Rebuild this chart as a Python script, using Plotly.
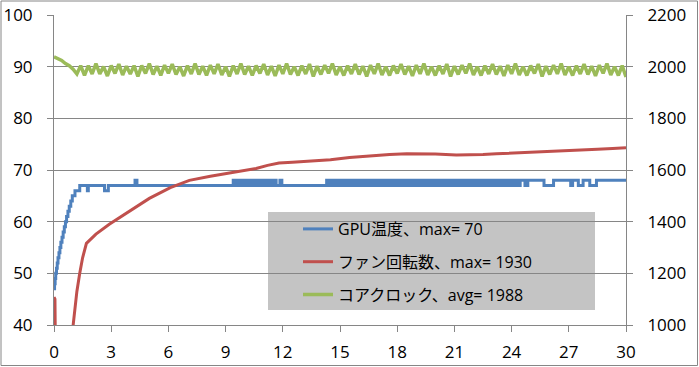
import plotly.graph_objects as go

# ---------------- data ----------------
x_ticks = [0, 3, 6, 9, 12, 15, 18, 21, 24, 27, 30]

legend_names = ["GPU温度、max= 70", "ファン回転数、max= 1930", "コアクロック、avg= 1988"]

# GPU temperature (left axis, deg C) – step readings
gpu_t = [0.0, 0.03, 0.06, 0.09, 0.13, 0.17, 0.21, 0.26, 0.31, 0.36, 0.42, 0.48,
         0.54, 0.6, 0.66, 0.73, 0.8, 0.88, 0.96, 1.1, 1.35,
         1.75, 1.8, 2.65, 2.85, 4.25, 4.35,
         9.4, 9.55, 9.7, 9.85, 10.0, 10.15, 10.3, 10.45, 10.6, 10.75, 10.9, 11.05,
         11.2, 11.35, 11.5, 11.65, 11.85, 11.95,
         14.3, 14.45, 14.6, 14.75, 14.9, 15.05, 15.2, 15.35, 15.5, 15.65, 15.8, 15.95,
         16.1, 16.25, 16.4, 16.55, 16.7, 16.85, 17.0, 17.15, 17.3, 17.45, 17.6, 17.75,
         17.9, 18.05, 18.2, 18.35, 18.5, 18.65, 18.8, 18.95, 19.1, 19.25, 19.4, 19.55,
         19.7, 19.85, 20.0, 20.15, 20.3, 20.45, 20.6, 20.75, 20.9, 21.05, 21.2, 21.35,
         21.5, 21.65, 21.8, 21.95, 22.1, 22.25, 22.4, 22.55, 22.7, 22.85, 23.0, 23.15,
         23.3, 23.45, 23.6, 23.75, 23.9, 24.05, 24.2, 24.35,
         24.45, 24.7, 24.85, 25.7, 26.2, 27.1, 27.2, 27.5, 27.75, 28.1, 28.45, 30.0]
gpu_v = [47, 48, 49, 50, 51, 52, 53, 54, 55, 56, 57, 58,
         59, 60, 61, 62, 63, 64, 65, 66, 67,
         66, 67, 66, 67, 68, 67,
         68, 67, 68, 67, 68, 67, 68, 67, 68, 67, 68, 67,
         68, 67, 68, 67, 68, 67,
         68, 67, 68, 67, 68, 67, 68, 67, 68, 67, 68, 67,
         68, 67, 68, 67, 68, 67, 68, 67, 68, 67, 68, 67,
         68, 67, 68, 67, 68, 67, 68, 67, 68, 67, 68, 67,
         68, 67, 68, 67, 68, 67, 68, 67, 68, 67, 68, 67,
         68, 67, 68, 67, 68, 67, 68, 67, 68, 67, 68, 67,
         68, 67, 68, 67, 68, 67, 68, 67,
         68, 67, 68, 67, 68, 67, 68, 67, 68, 67, 68, 68]

# Fan speed (right axis, rpm)
fan_t = [0.0, 0.05, 0.1, 0.5, 0.9, 1.0, 1.1, 1.2, 1.35, 1.5, 1.7, 2.2, 2.9,
         4.0, 5.0, 6.1, 7.1, 8.2, 9.2, 10.0, 10.6, 11.2, 11.8, 12.5, 13.8, 14.5,
         15.5, 16.5, 17.6, 18.5, 19.35, 20.0, 21.1, 22.0, 22.5, 23.2, 24.25,
         25.0, 26.0, 27.0, 27.75, 28.5, 29.3, 30.0]
fan_v = [1108, 1100, 700, 760, 930, 1000, 1070, 1130, 1200, 1260, 1316, 1352, 1390,
         1444, 1490, 1532, 1560, 1576, 1588, 1596, 1606, 1618, 1627, 1630, 1636, 1640,
         1648, 1655, 1660, 1663, 1664, 1662, 1658, 1658, 1660, 1663, 1666,
         1668, 1670, 1673, 1676, 1680, 1683, 1686]

# Core clock (right axis, MHz) – readings every 0.2 min
clk_t = [0.0, 0.2, 0.4, 0.6, 0.8, 1.0, 1.2, 1.4, 1.6, 1.8,
         2.0, 2.2, 2.4, 2.6, 2.8, 3.0, 3.2, 3.4, 3.6, 3.8,
         4.0, 4.2, 4.4, 4.6, 4.8, 5.0, 5.2, 5.4, 5.6, 5.8,
         6.0, 6.2, 6.4, 6.6, 6.8, 7.0, 7.2, 7.4, 7.6, 7.8,
         8.0, 8.2, 8.4, 8.6, 8.8, 9.0, 9.2, 9.4, 9.6, 9.8,
         10.0, 10.2, 10.4, 10.6, 10.8, 11.0, 11.2, 11.4, 11.6, 11.8,
         12.0, 12.2, 12.4, 12.6, 12.8, 13.0, 13.2, 13.4, 13.6, 13.8,
         14.0, 14.2, 14.4, 14.6, 14.8, 15.0, 15.2, 15.4, 15.6, 15.8,
         16.0, 16.2, 16.4, 16.6, 16.8, 17.0, 17.2, 17.4, 17.6, 17.8,
         18.0, 18.2, 18.4, 18.6, 18.8, 19.0, 19.2, 19.4, 19.6, 19.8,
         20.0, 20.2, 20.4, 20.6, 20.8, 21.0, 21.2, 21.4, 21.6, 21.8,
         22.0, 22.2, 22.4, 22.6, 22.8, 23.0, 23.2, 23.4, 23.6, 23.8,
         24.0, 24.2, 24.4, 24.6, 24.8, 25.0, 25.2, 25.4, 25.6, 25.8,
         26.0, 26.2, 26.4, 26.6, 26.8, 27.0, 27.2, 27.4, 27.6, 27.8,
         28.0, 28.2, 28.4, 28.6, 28.8, 29.0, 29.2, 29.4, 29.6, 29.8,
         30.0]
clk_v = [2038, 2030, 2024, 2012, 2004, 1990, 1972, 2004, 1966, 2004,
         1972, 2012, 1972, 2000, 1964, 2004, 1974, 2010, 1968, 2002,
         1972, 2004, 1962, 2004, 1974, 2012, 1970, 2002, 1966, 2006,
         1974, 2010, 1970, 2000, 1964, 2004, 1972, 2012, 1970, 2002,
         1966, 2006, 1972, 2010, 1968, 2000, 1962, 2004, 1972, 2012,
         1970, 2002, 1966, 2004, 1974, 2010, 1968, 2002, 1964, 2006,
         1972, 2012, 1970, 2000, 1966, 2004, 1972, 2010, 1962, 2002,
         1970, 2006, 1974, 2012, 1968, 2000, 1966, 2004, 1972, 2010,
         1970, 2002, 1962, 2006, 1972, 2012, 1968, 2000, 1966, 2004,
         1974, 2010, 1970, 2002, 1964, 2006, 1972, 2012, 1968, 2000,
         1966, 2004, 1972, 2010, 1962, 2002, 1970, 2006, 1974, 2012,
         1968, 2000, 1966, 2004, 1972, 2010, 1970, 2002, 1964, 2006,
         1972, 2012, 1968, 2000, 1966, 2004, 1974, 2010, 1962, 2002,
         1970, 2006, 1972, 2012, 1968, 2000, 1966, 2004, 1972, 2010,
         1970, 2002, 1964, 2006, 1974, 2012, 1968, 2000, 1966, 2004,
         1960]

# ---------------- styling ----------------
BLUE, RED, GREEN = "#4F81BD", "#C0504D", "#9BBB59"
GRID = "#868686"
TICK_FONT = dict(family="Open Sans, Noto Sans CJK JP", size=17, color="#000000")
LEG_FONT = dict(family="Open Sans, Noto Sans CJK JP", size=16, color="#000000")

W, H = 699, 367
L, R, T, B = 54, 73, 15, 42
pw, ph = W - L - R, H - T - B

def px_x(p):
    return (p - L) / pw

def px_y(p):
    return (H - B - p) / ph

fig = go.Figure()
fig.add_trace(go.Scatter(x=gpu_t, y=gpu_v, mode="lines", name=legend_names[0],
                         line=dict(color=BLUE, width=3, shape="hv"),
                         legendgroup="a", yaxis="y"))
fig.add_trace(go.Scatter(x=fan_t, y=fan_v, mode="lines", name=legend_names[1],
                         line=dict(color=RED, width=3), legendgroup="b", yaxis="y2"))
fig.add_trace(go.Scatter(x=clk_t, y=clk_v, mode="lines", name=legend_names[2],
                         line=dict(color=GREEN, width=3.5), legendgroup="c", yaxis="y2"))

axis_common = dict(showline=True, linecolor=GRID, linewidth=1, ticks="outside",
                   ticklen=6, tickcolor=GRID, tickwidth=1, tickfont=TICK_FONT,
                   zeroline=False, automargin=False)

fig.update_layout(
    width=W, height=H,
    margin=dict(l=L, r=R, t=T, b=B, pad=0),
    paper_bgcolor="white", plot_bgcolor="white",
    xaxis=dict(range=[0, 30], tickvals=x_ticks, showgrid=False,
               ticklabelstandoff=6, **axis_common),
    yaxis=dict(range=[40, 100], dtick=10, showgrid=True, gridcolor=GRID,
               gridwidth=1, ticklabelstandoff=11, **axis_common),
    yaxis2=dict(range=[1000, 2200], dtick=200, overlaying="y", side="right",
                showgrid=False, ticklabelstandoff=11, **axis_common),
    showlegend=True,
    legend=dict(x=px_x(298), y=px_y(212), xanchor="left", yanchor="top",
                bgcolor="rgba(0,0,0,0)", borderwidth=0, font=LEG_FONT,
                traceorder="grouped", tracegroupgap=9, itemwidth=30),
    shapes=[
        dict(type="rect", xref="paper", yref="paper",
             x0=px_x(268), x1=px_x(595), y0=px_y(310), y1=px_y(212),
             fillcolor="#C4C4C4", line=dict(width=0), layer="below"),
        dict(type="rect", xref="paper", yref="paper",
             x0=px_x(1), x1=px_x(697.5), y0=px_y(365.5), y1=px_y(1),
             fillcolor="rgba(0,0,0,0)", line=dict(color=GRID, width=1), layer="above"),
    ],
)

fig.write_html("out.html",
               config={"displayModeBar": False},
               post_script="document.body.style.margin='0px';document.body.style.overflow='hidden';")
